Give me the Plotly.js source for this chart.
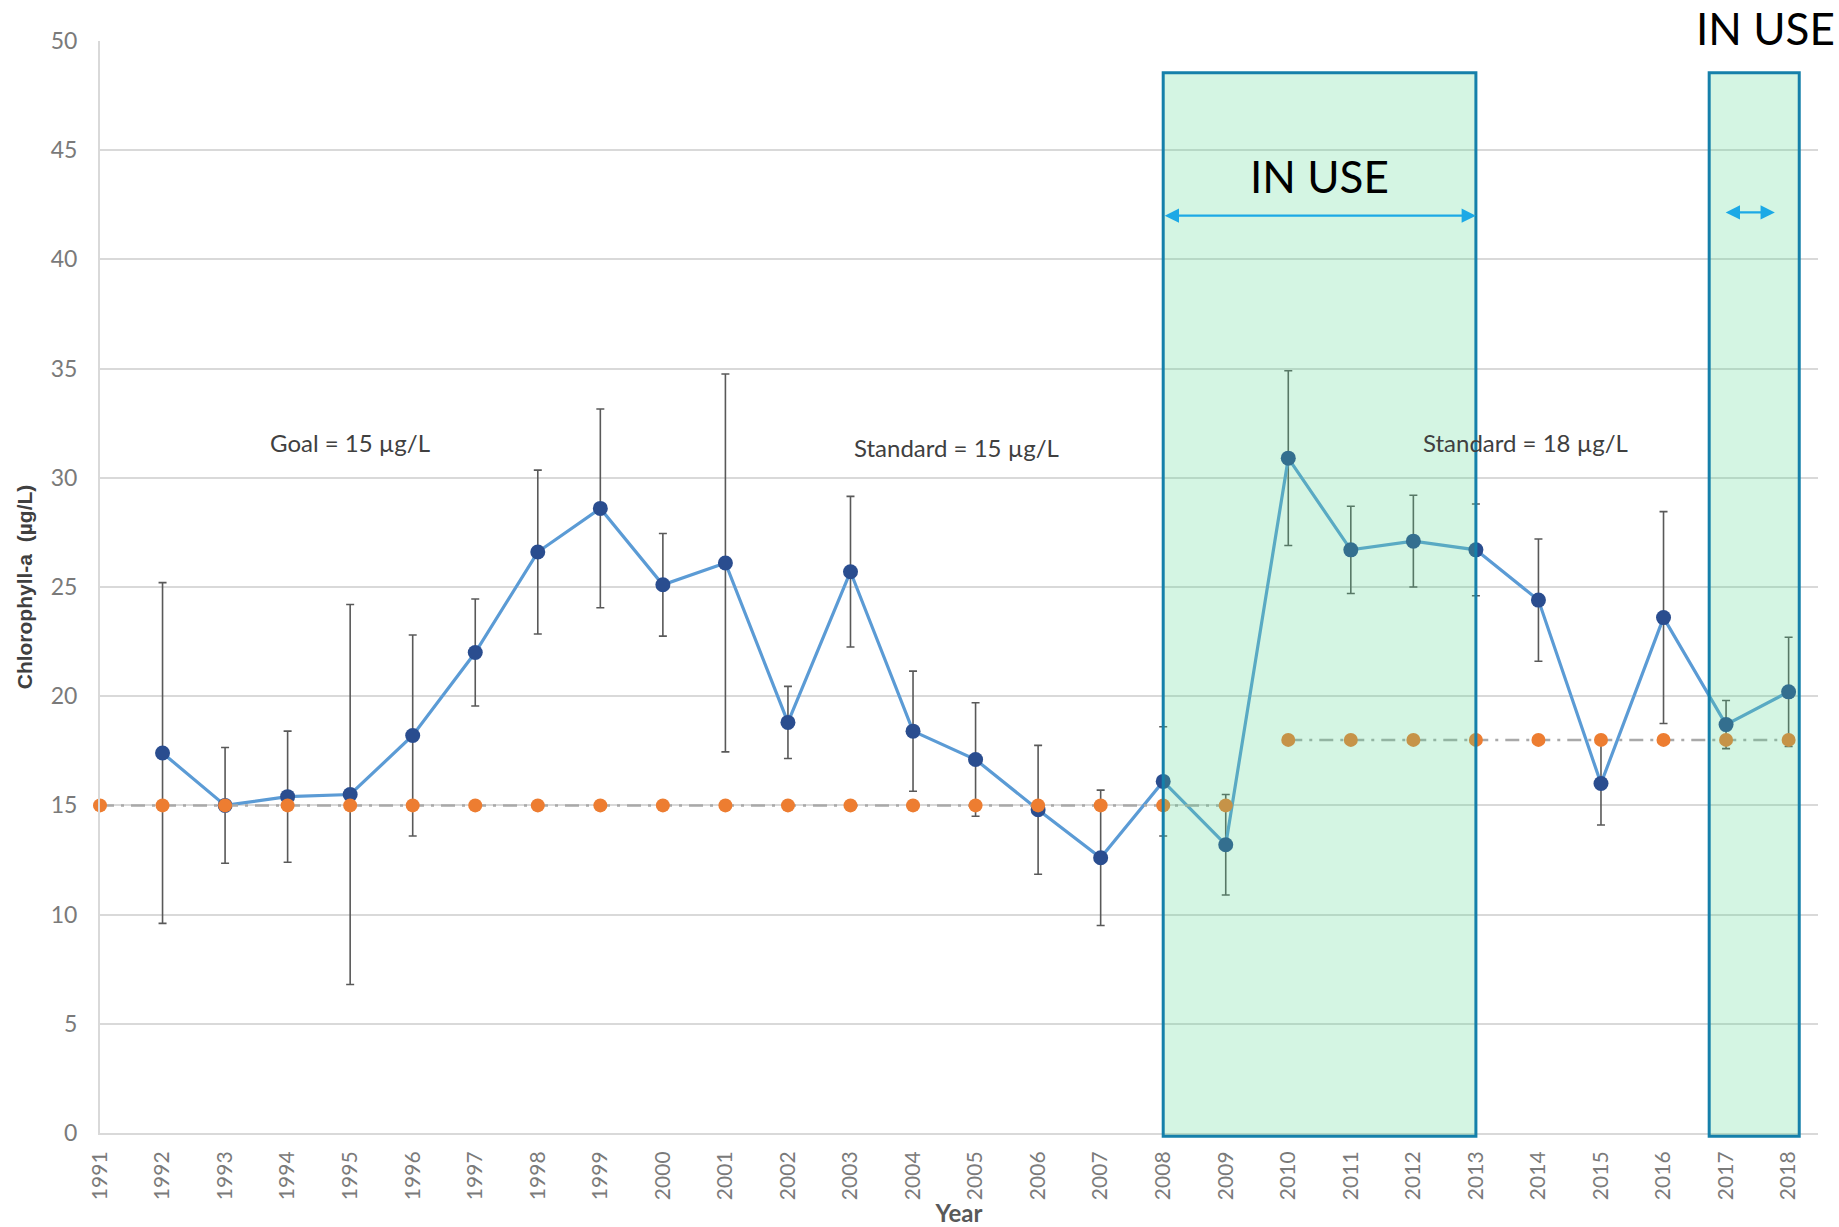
<!DOCTYPE html>
<html>
<head>
<meta charset="utf-8">
<script src="https://cdn.plot.ly/plotly-3.0.1.min.js"></script>
<style>
  html, body { margin: 0; padding: 0; background: #ffffff; }
  #chart { width: 1839px; height: 1227px; }
</style>
</head>
<body>
<div id="chart"></div>
<script>
// ---- Data ----
const years = [1991, 1992, 1993, 1994, 1995, 1996, 1997, 1998, 1999, 2000,
               2001, 2002, 2003, 2004, 2005, 2006, 2007, 2008, 2009, 2010,
               2011, 2012, 2013, 2014, 2015, 2016, 2017, 2018];
const chlorophyll = [null, 17.4, 15.0, 15.4, 15.5, 18.2, 22.0, 26.6, 28.6, 25.1,
                     26.1, 18.8, 25.7, 18.4, 17.1, 14.8, 12.6, 16.1, 13.2, 30.9,
                     26.7, 27.1, 26.7, 24.4, 16.0, 23.6, 18.7, 20.2];
const chlorophyllError = [null, 7.8, 2.65, 3.0, 8.7, 4.6, 2.45, 3.75, 4.55, 2.35,
                          8.65, 1.65, 3.45, 2.75, 2.6, 2.95, 3.1, 2.5, 2.3, 4.0,
                          2.0, 2.1, 2.1, 2.8, 1.9, 4.85, 1.1, 2.5];
const goalYears = [1991, 1992, 1993, 1994, 1995, 1996, 1997, 1998, 1999, 2000,
                   2001, 2002, 2003, 2004, 2005, 2006, 2007, 2008, 2009];
const goalValues = [15, 15, 15, 15, 15, 15, 15, 15, 15, 15,
                    15, 15, 15, 15, 15, 15, 15, 15, 15];
const standardYears = [2010, 2011, 2012, 2013, 2014, 2015, 2016, 2017, 2018];
const standardValues = [18, 18, 18, 18, 18, 18, 18, 18, 18];
const yearLabels = years.map(String);
const yTicks = [0, 5, 10, 15, 20, 25, 30, 35, 40, 45, 50];
const inUsePeriods = [[2008, 2013], [2016.73, 2018.17]];
const textLabels = ['Goal = 15 µg/L', 'Standard = 15 µg/L', 'Standard = 18 µg/L'];
const textLabelX = [1995.0, 2004.7, 2013.8];
const textLabelY = [31.6, 31.4, 31.6];

// ---- Traces ----
const traces = [
  {
    x: years, y: chlorophyll, type: 'scatter', mode: 'lines+markers',
    line: { color: '#5B9BD5', width: 3.2 },
    marker: { color: '#2A4D8F', size: 15 },
    error_y: { type: 'data', array: chlorophyllError, visible: true,
               color: '#595959', thickness: 1.6, width: 4 },
    connectgaps: false, cliponaxis: false, showlegend: false
  },
  {
    x: goalYears, y: goalValues, type: 'scatter', mode: 'lines+markers',
    line: { color: '#A9A9A9', width: 2.5, dash: '14px,7px,3px,7px' },
    marker: { color: '#ED7D31', size: 14 },
    cliponaxis: false, showlegend: false
  },
  {
    x: standardYears, y: standardValues, type: 'scatter', mode: 'lines+markers',
    line: { color: '#A9A9A9', width: 2.5, dash: '14px,7px,3px,7px' },
    marker: { color: '#ED7D31', size: 14 },
    cliponaxis: false, showlegend: false
  }
];

// ---- Shapes (IN USE periods) ----
const shapes = inUsePeriods.map(p => ({
  type: 'rect', xref: 'x', yref: 'paper',
  x0: p[0], x1: p[1], y0: -0.003, y1: 0.971,
  fillcolor: 'rgba(83,215,143,0.25)',
  line: { color: '#1580AA', width: 3 },
  layer: 'above'
}));

// ---- Annotations ----
const annotations = [];
textLabels.forEach((t, i) => {
  annotations.push({
    x: textLabelX[i], y: textLabelY[i], xref: 'x', yref: 'y',
    text: t, showarrow: false, xanchor: 'center', yanchor: 'middle',
    font: { family: 'Lato, "Open Sans", sans-serif', size: 24, color: '#404040' }
  });
});
// arrows
annotations.push({
  xref: 'x', yref: 'y', axref: 'x', ayref: 'y',
  x: inUsePeriods[0][1], y: 42.0, ax: inUsePeriods[0][0], ay: 42.0,
  text: '', showarrow: true, arrowside: 'end+start', arrowhead: 2,
  arrowsize: 1.3, arrowwidth: 2.2, arrowcolor: '#1CA9E6'
});
annotations.push({
  xref: 'x', yref: 'y', axref: 'x', ayref: 'y',
  x: 2017.78, y: 42.15, ax: 2016.97, ay: 42.15,
  text: '', showarrow: true, arrowside: 'end+start', arrowhead: 2,
  arrowsize: 1.3, arrowwidth: 2.2, arrowcolor: '#1CA9E6'
});
// IN USE labels
annotations.push({
  x: 2010.5, y: 43.8, xref: 'x', yref: 'y', text: 'IN USE', showarrow: false,
  xanchor: 'center', yanchor: 'middle',
  font: { family: 'Lato, "Open Sans", sans-serif', size: 44, color: '#000000' }
});
annotations.push({
  x: 2017.63, y: 1.012, xref: 'x', yref: 'paper', text: 'IN USE', showarrow: false,
  xanchor: 'center', yanchor: 'middle',
  font: { family: 'Lato, "Open Sans", sans-serif', size: 44, color: '#000000' }
});

const layout = {
  width: 1839, height: 1227,
  margin: { l: 100, r: 21, t: 41, b: 94 },
  paper_bgcolor: '#ffffff', plot_bgcolor: '#ffffff',
  showlegend: false,
  xaxis: {
    range: [1991, 2018.47],
    tickmode: 'array', tickvals: years, ticktext: yearLabels,
    tickangle: -90, ticks: '', ticklabelstandoff: 8,
    tickfont: { family: 'Lato, sans-serif', size: 21, color: '#7a7a7a' },
    showgrid: false, zeroline: false,
    showline: true, linecolor: '#D9D9D9', linewidth: 2,
    title: { text: 'Year', standoff: 4,
             font: { family: 'Lato, sans-serif', size: 24, color: '#595959', weight: 'bold' } }
  },
  yaxis: {
    range: [0, 50],
    tickmode: 'array', tickvals: yTicks,
    ticks: '', ticklabelstandoff: 16,
    tickfont: { family: 'Lato, sans-serif', size: 23, color: '#7a7a7a' },
    showgrid: true, gridcolor: '#D9D9D9', gridwidth: 2,
    zeroline: false,
    showline: true, linecolor: '#D9D9D9', linewidth: 2,
    title: { text: 'Chlorophyll-a  (µg/L)', standoff: 12,
             font: { family: '"Liberation Sans", Arial, sans-serif', size: 21, color: '#404040', weight: 'bold' } }
  },
  shapes: shapes,
  annotations: annotations
};

Plotly.newPlot('chart', traces, layout, { displayModeBar: false, staticPlot: true });
</script>
</body>
</html>
